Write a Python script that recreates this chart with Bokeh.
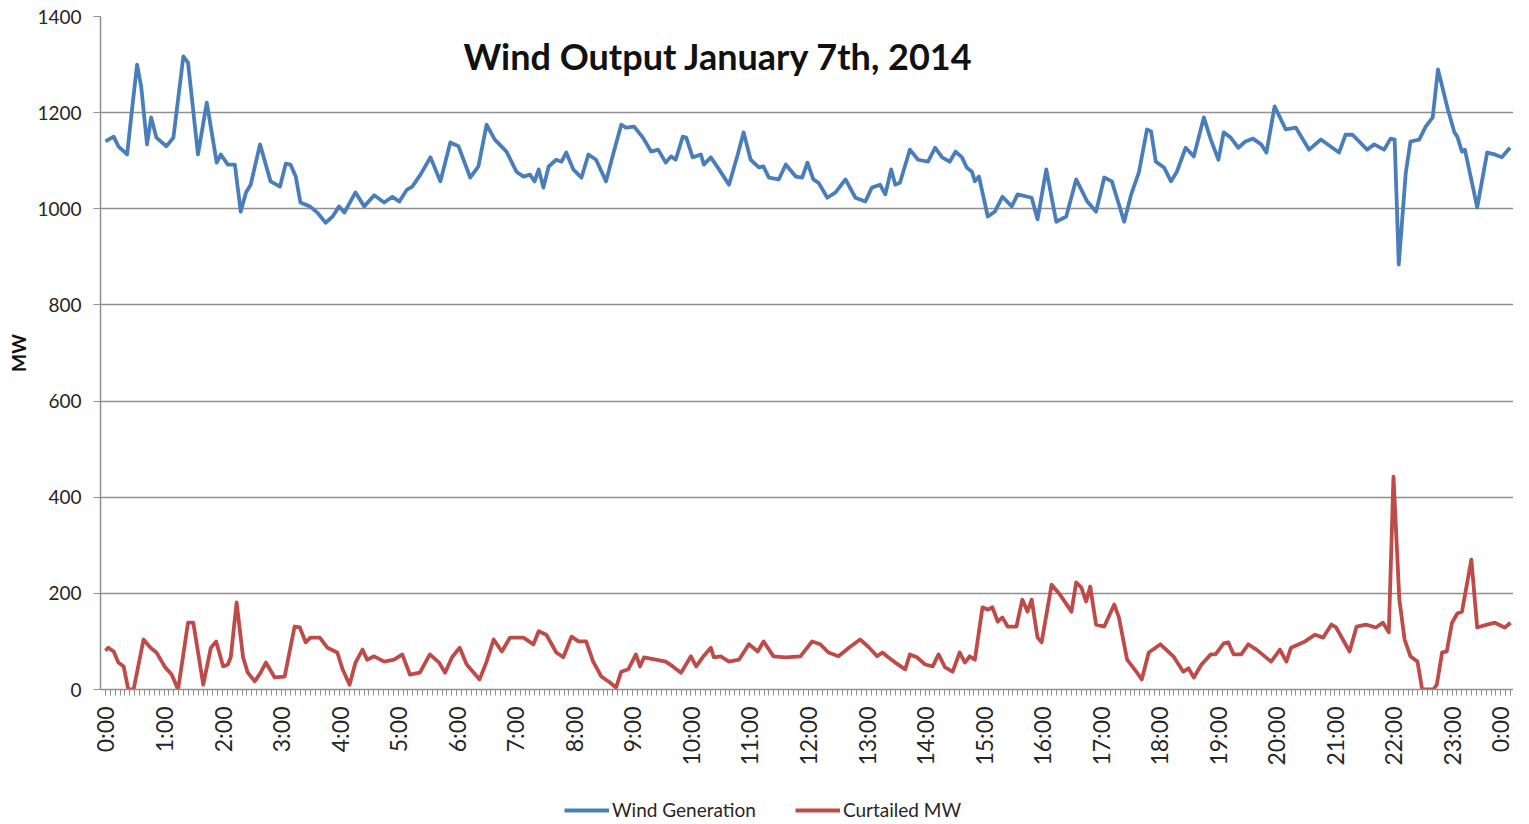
from bokeh.plotting import figure
from bokeh.models import (Range1d, FixedTicker, Label, Legend, LegendItem)
from bokeh.layouts import column
from bokeh.embed import file_html
from bokeh.resources import INLINE
from math import pi

# ---------------- data ----------------
title_text = "Wind Output January 7th, 2014"
y_label = "MW"
series_names = ["Wind Generation", "Curtailed MW"]
hour_ticks = list(range(25))
hour_labels = [f"{h % 24}:00" for h in range(25)]
y_ticks = [0, 200, 400, 600, 800, 1000, 1200, 1400]

wind_hours = [0.0, 0.14, 0.22, 0.37, 0.44, 0.54, 0.61, 0.71, 0.78, 0.87, 1.04, 1.16, 1.33, 1.41,
              1.58, 1.73, 1.90, 1.97, 2.09, 2.21, 2.31, 2.40, 2.48, 2.64, 2.82, 2.98, 3.08, 3.16,
              3.25, 3.33, 3.49, 3.62, 3.76, 3.88, 3.99, 4.08, 4.27, 4.42, 4.59, 4.76, 4.90, 5.02,
              5.15, 5.24, 5.38, 5.55, 5.72, 5.89, 6.03, 6.23, 6.37, 6.51, 6.65, 6.85, 7.02, 7.14,
              7.25, 7.33, 7.40, 7.48, 7.57, 7.70, 7.79, 7.87, 7.99, 8.13, 8.25, 8.38, 8.55, 8.67,
              8.81, 8.89, 9.03, 9.18, 9.32, 9.44, 9.57, 9.66, 9.74, 9.86, 9.92, 10.03, 10.17, 10.22,
              10.34, 10.48, 10.65, 10.80, 10.90, 11.02, 11.16, 11.24, 11.33, 11.50, 11.62, 11.79,
              11.90, 11.99, 12.09, 12.18, 12.33, 12.47, 12.64, 12.81, 12.98, 13.09, 13.23, 13.32,
              13.42, 13.49, 13.57, 13.74, 13.88, 14.05, 14.17, 14.29, 14.42, 14.52, 14.63, 14.71,
              14.80, 14.85, 14.92, 15.07, 15.19, 15.32, 15.48, 15.58, 15.82, 15.92, 16.07, 16.24,
              16.41, 16.58, 16.77, 16.92, 17.06, 17.19, 17.40, 17.52, 17.65, 17.79, 17.86, 17.94,
              18.08, 18.20, 18.30, 18.45, 18.59, 18.76, 18.88, 19.01, 19.10, 19.22, 19.35, 19.47,
              19.60, 19.74, 19.83, 19.97, 20.16, 20.33, 20.56, 20.76, 21.07, 21.18, 21.30, 21.55,
              21.67, 21.84, 21.95, 22.02, 22.09, 22.21, 22.29, 22.44, 22.55, 22.67, 22.76, 22.93,
              23.04, 23.09, 23.17, 23.22, 23.43, 23.60, 23.73, 23.85, 23.99]
wind_mw = [1140, 1150, 1130, 1113, 1192, 1300, 1254, 1134, 1190, 1148, 1130, 1148, 1317, 1304,
           1113, 1221, 1096, 1113, 1092, 1092, 994, 1034, 1050, 1134, 1057, 1046, 1094, 1092,
           1067, 1013, 1005, 992, 971, 984, 1005, 992, 1034, 1005, 1028, 1013, 1025, 1015,
           1040, 1046, 1071, 1107, 1057, 1138, 1130, 1065, 1088, 1175, 1144, 1119, 1077, 1067,
           1071, 1057, 1082, 1044, 1088, 1102, 1098, 1117, 1082, 1065, 1113, 1102, 1057, 1113,
           1175, 1169, 1171, 1148, 1119, 1123, 1096, 1109, 1102, 1150, 1148, 1107, 1113, 1092,
           1107, 1082, 1050, 1113, 1159, 1102, 1086, 1088, 1065, 1061, 1092, 1067,
           1065, 1096, 1061, 1054, 1023, 1034, 1061, 1023, 1015, 1044, 1050, 1030,
           1082, 1050, 1054, 1123, 1102, 1098, 1127, 1107, 1098, 1119, 1107, 1086,
           1077, 1057, 1067, 984, 994, 1025, 1005, 1030, 1023, 978, 1082, 973,
           984, 1061, 1015, 994, 1065, 1057, 973, 1030, 1075, 1165, 1161, 1098,
           1086, 1057, 1077, 1127, 1109, 1190, 1144, 1102, 1159, 1148, 1127, 1140,
           1146, 1134, 1117, 1213, 1165, 1169, 1123, 1144, 1117, 1154, 1154, 1123,
           1134, 1123, 1146, 1144, 884, 1075, 1140, 1144, 1171, 1190, 1290, 1206,
           1159, 1150, 1119, 1123, 1003, 1117, 1113, 1107, 1127]

curtail_hours = [0.0, 0.05, 0.14, 0.22, 0.31, 0.39, 0.48, 0.65, 0.77, 0.87, 1.02, 1.13, 1.24, 1.41,
                 1.50, 1.67, 1.80, 1.89, 2.01, 2.09, 2.14, 2.24, 2.35, 2.43, 2.55, 2.65, 2.74, 2.89,
                 3.06, 3.23, 3.32, 3.42, 3.50, 3.66, 3.79, 3.96, 4.05, 4.17, 4.27, 4.39, 4.47, 4.59,
                 4.76, 4.93, 5.07, 5.20, 5.37, 5.54, 5.70, 5.80, 5.92, 6.05, 6.17, 6.39, 6.51, 6.63,
                 6.77, 6.91, 7.14, 7.31, 7.40, 7.53, 7.70, 7.82, 7.96, 8.08, 8.21, 8.33, 8.47, 8.61,
                 8.72, 8.81, 8.93, 9.06, 9.13, 9.20, 9.40, 9.57, 9.69, 9.83, 10.00, 10.09, 10.20,
                 10.34, 10.39, 10.51, 10.65, 10.82, 10.99, 11.14, 11.24, 11.41, 11.62, 11.87, 11.96,
                 12.07, 12.21, 12.35, 12.52, 12.72, 12.89, 13.03, 13.18, 13.27, 13.37, 13.49, 13.66,
                 13.74, 13.86, 14.00, 14.13, 14.23, 14.34, 14.47, 14.59, 14.68, 14.76, 14.85, 14.98,
                 15.07, 15.15, 15.24, 15.32, 15.41, 15.56, 15.66, 15.75, 15.82, 15.92, 15.99, 16.16,
                 16.30, 16.50, 16.58, 16.67, 16.75, 16.82, 16.92, 17.06, 17.23, 17.31, 17.45, 17.62,
                 17.70, 17.82, 18.02, 18.24, 18.41, 18.50, 18.59, 18.72, 18.88, 18.96, 19.10, 19.18,
                 19.27, 19.40, 19.52, 19.66, 19.91, 20.06, 20.17, 20.25, 20.49, 20.66, 20.80, 20.94,
                 21.02, 21.25, 21.37, 21.53, 21.70, 21.82, 21.92, 22.00, 22.10, 22.19, 22.29, 22.41,
                 22.49, 22.68, 22.74, 22.83, 22.91, 23.00, 23.09, 23.17, 23.33, 23.43, 23.60, 23.73,
                 23.90, 24.00]
curtail_mw = [81, 87, 79, 56, 48, 0, 0, 104, 87, 77, 46, 31, 0, 139,
              139, 10, 87, 100, 48, 52, 67, 181, 67, 35, 17, 35, 56, 25,
              27, 131, 129, 98, 108, 108, 87, 77, 42, 10, 56, 83, 62, 69,
              58, 62, 73, 31, 35, 73, 56, 35, 67, 87, 52, 21, 58, 104,
              79, 108, 108, 94, 121, 114, 77, 67, 110, 100, 100, 58, 27, 15,
              4, 37, 42, 73, 48, 67, 62, 58, 48, 35, 69, 48, 67,
              87, 67, 69, 58, 62, 94, 79, 100, 69, 67, 69, 83,
              100, 94, 77, 69, 89, 104, 89, 69, 77, 67, 56, 42,
              73, 67, 52, 48, 73, 46, 37, 77, 56, 69, 62, 171,
              166, 171, 141, 150, 131, 131, 187, 162, 187, 108, 98, 218,
              198, 162, 223, 212, 183, 214, 135, 131, 177, 150, 62, 35,
              21, 77, 94, 69, 37, 44, 25, 52, 73, 73, 96, 98,
              73, 73, 94, 83, 58, 83, 58, 87, 100, 114, 108, 135,
              129, 79, 131, 135, 129, 139, 119, 443, 187, 104, 69, 58,
              0, 0, 10, 77, 79, 139, 158, 162, 270, 129, 135, 139,
              129, 139]

# ---------------- style ----------------
BLUE = "#4a7ebb"
RED = "#be4b48"
GRID = "#8f8f8f"
TXT = "#262626"
FONT = "Lato"
LW = 3.8

p = figure(width=1513, height=772, output_backend="svg", toolbar_location=None,
           x_range=Range1d(-0.085, 24.05), y_range=Range1d(0, 1400),
           min_border_left=100, min_border_right=0, min_border_top=16, min_border_bottom=83)
p.title = None
p.outline_line_color = None
p.background_fill_color = "white"
p.border_fill_color = "white"

p.line(wind_hours, wind_mw, line_color=BLUE, line_width=LW, line_join="round")
p.line(curtail_hours, curtail_mw, line_color=RED, line_width=LW, line_join="round")

# x axis
xa = p.xaxis[0]
xa.ticker = FixedTicker(ticks=hour_ticks, minor_ticks=[i / 12 for i in range(289)])
xa.major_label_overrides = {h: lbl for h, lbl in zip(hour_ticks, hour_labels)}
xa.major_label_orientation = pi / 2
xa.major_label_text_font = FONT
xa.major_label_text_font_size = "23px"
xa.major_label_text_color = TXT
xa.major_label_standoff = 11
xa.axis_line_color = GRID
xa.axis_line_width = 1.5
xa.major_tick_line_color = GRID
xa.minor_tick_line_color = GRID
xa.major_tick_out = 6
xa.major_tick_in = 0
xa.minor_tick_out = 6
xa.minor_tick_in = 0

# y axis
ya = p.yaxis[0]
ya.ticker = FixedTicker(ticks=y_ticks)
ya.major_label_text_font = FONT
ya.major_label_text_font_size = "19px"
ya.major_label_text_color = TXT
ya.major_label_standoff = 12
ya.axis_line_color = GRID
ya.axis_line_width = 1.5
ya.major_tick_line_color = GRID
ya.major_tick_out = 7
ya.major_tick_in = 0
ya.minor_tick_line_color = None
ya.axis_label = y_label
ya.axis_label_text_font = FONT
ya.axis_label_text_font_style = "bold"
ya.axis_label_text_font_size = "19px"
ya.axis_label_text_color = "#111111"
ya.axis_label_standoff = 4

p.xgrid.grid_line_color = None
p.ygrid.grid_line_color = GRID
p.ygrid.grid_line_width = 1.5
p.ygrid.ticker = FixedTicker(ticks=y_ticks)

# title inside plot
p.add_layout(Label(x=10.47, y=1317, text=title_text, text_font=FONT, text_font_style="bold",
                   text_font_size="36px", text_color="#111111", text_align="center",
                   text_baseline="middle"))

# ---------------- legend strip (same series, legend only) ----------------
lg = figure(width=1513, height=50, output_backend="svg", toolbar_location=None,
            x_range=Range1d(-0.085, 24.05), y_range=Range1d(0, 1400),
            min_border=0, min_border_left=0, min_border_right=0,
            min_border_top=0, min_border_bottom=0)
lg.title = None
lg.axis.visible = False
lg.grid.visible = False
lg.outline_line_color = None
lg.border_fill_color = "white"
l1 = lg.line(wind_hours, wind_mw, line_color=BLUE, line_width=4, visible=False)
l2 = lg.line(curtail_hours, curtail_mw, line_color=RED, line_width=4, visible=False)

legend = Legend(items=[LegendItem(label=series_names[0], renderers=[l1]),
                       LegendItem(label=series_names[1], renderers=[l2])],
                location=(464, 1), orientation="horizontal",
                glyph_width=45, glyph_height=20, label_standoff=3, spacing=39,
                padding=0, margin=0, border_line_color=None, background_fill_alpha=0,
                label_text_font=FONT, label_text_font_size="19px", label_text_color=TXT)
lg.add_layout(legend)

layout = column(p, lg, spacing=0)
open("out.html", "w").write(file_html(layout, INLINE))
